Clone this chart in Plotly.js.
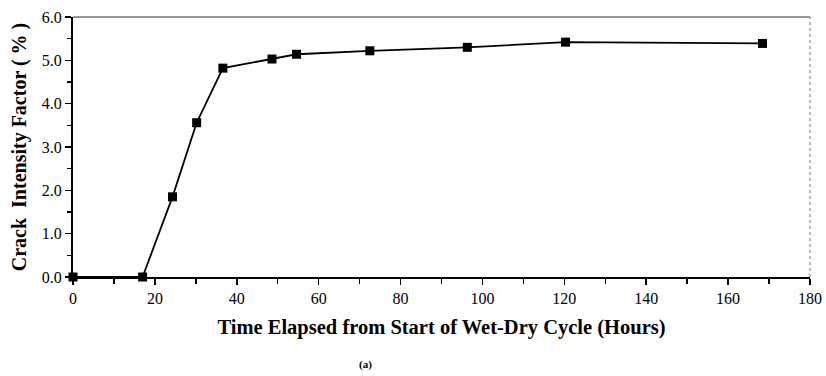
<!DOCTYPE html>
<html>
<head>
<meta charset="utf-8">
<script src="https://cdn.plot.ly/plotly-3.0.1.min.js"></script>
<style>html,body{margin:0;padding:0;background:#fff;}#chart{width:826px;height:376px;}</style>
</head>
<body>
<div id="chart"></div>
<script>
// Data
var hours = [0, 17, 24.3, 30.2, 36.6, 48.6, 54.6, 72.5, 96.3, 120.3, 168.4];
var crackFactor = [0, 0, 1.85, 3.56, 4.82, 5.03, 5.14, 5.22, 5.30, 5.42, 5.39];
var xTickVals = [0, 20, 40, 60, 80, 100, 120, 140, 160, 180];
var yTickVals = [0, 1, 2, 3, 4, 5, 6];
var yTickText = ["0.0", "1.0", "2.0", "3.0", "4.0", "5.0", "6.0"];

var serif = "'Liberation Serif'";

var trace = {
  x: hours,
  y: crackFactor,
  type: "scatter",
  mode: "lines+markers",
  line: {color: "#000", width: 1.8},
  marker: {symbol: "square", size: 9, color: "#000"},
  cliponaxis: false,
  showlegend: false
};

var layout = {
  width: 826, height: 376,
  margin: {l: 73, r: 16, t: 17, b: 99},
  paper_bgcolor: "#fff", plot_bgcolor: "#fff",
  font: {family: serif, color: "#000", size: 15},
  xaxis: {
    range: [0, 180], tickvals: xTickVals, ticktext: xTickVals.map(String),
    showgrid: false, zeroline: false,
    showline: true, linecolor: "#000", linewidth: 2,
    ticks: "outside", ticklen: 6, tickwidth: 1.5, tickcolor: "#000",
    minor: {dtick: 10, ticks: "outside", ticklen: 5, tickwidth: 1.5, tickcolor: "#000", showgrid: false},
    tickfont: {family: serif, size: 16},
    title: {text: "<b>Time Elapsed from Start of Wet-Dry Cycle (Hours)</b>", font: {family: serif, size: 20.5}, standoff: 13}
  },
  yaxis: {
    range: [0, 6], tickvals: yTickVals, ticktext: yTickText,
    showgrid: false, zeroline: false,
    showline: true, linecolor: "#000", linewidth: 2,
    ticks: "outside", ticklen: 6, tickwidth: 1.5, tickcolor: "#000",
    minor: {dtick: 0.5, ticks: "outside", ticklen: 4, tickwidth: 1.5, tickcolor: "#000", showgrid: false},
    tickfont: {family: serif, size: 16},
    title: {text: "<b>Crack  Intensity Factor ( % )</b>", font: {family: serif, size: 20}, standoff: 10}
  },
  shapes: [
    {type: "line", xref: "paper", yref: "paper", x0: 0, x1: 1, y0: 1, y1: 1, line: {color: "#333", width: 1.2}},
    {type: "line", xref: "paper", yref: "paper", x0: 1, x1: 1, y0: 0, y1: 1, line: {color: "#777", width: 1, dash: "dot"}}
  ],
  annotations: [
    {text: "<b>(a)</b>", xref: "paper", yref: "paper", x: 0.397, y: -0.338, yanchor: "middle", showarrow: false, font: {family: serif, size: 11}}
  ]
};

Plotly.newPlot("chart", [trace], layout, {displayModeBar: false, staticPlot: true});
</script>
</body>
</html>
